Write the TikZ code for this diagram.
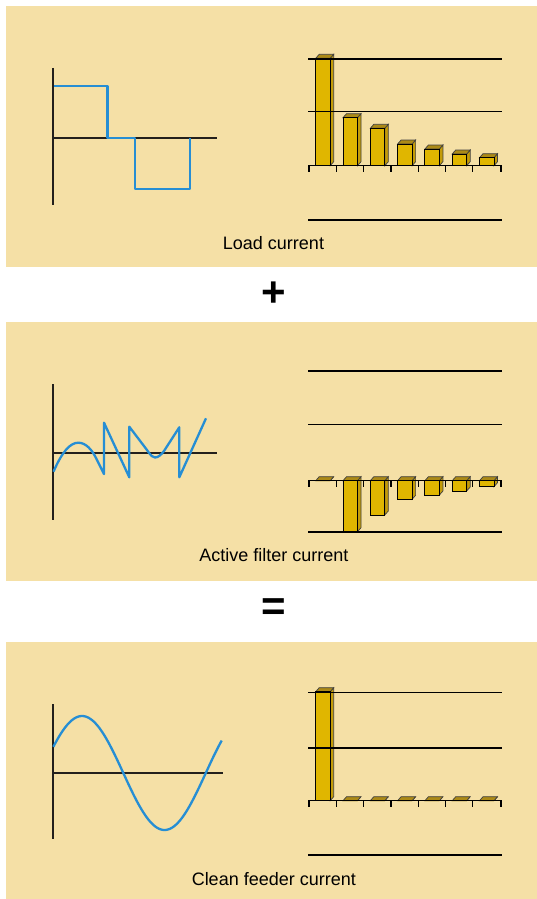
\documentclass[tikz,border=0pt]{standalone}
\usepackage{fontspec}
\setmainfont{Liberation Sans}
\definecolor{panelbg}{RGB}{245,224,166}
\definecolor{barfront}{RGB}{224,182,0}
\definecolor{bartop}{RGB}{172,138,22}
\definecolor{barside}{RGB}{196,156,8}
\definecolor{wave}{RGB}{38,142,212}
\definecolor{axis}{RGB}{35,32,28}
\tikzset{
  panel/.style={fill=panelbg,draw=none},
  axisline/.style={draw=axis,line width=1.8pt},
  chartline/.style={draw=black,line width=1.5pt},
  tickline/.style={draw=black,line width=1.2pt},
  waveline/.style={draw=wave,line width=2.3pt,line join=round},
  label/.style={font=\fontsize{18}{20}\selectfont,inner sep=0pt,anchor=base},
  opsign/.style={font=\fontsize{42}{42}\selectfont\bfseries,inner sep=0pt}
}
\newcommand\gbar[3]{%
  \filldraw[fill=barside,draw=black!75,line width=0.7pt] (#1+14.5,#2) -- (#1+18,#2-4) -- (#1+18,#3-4) -- (#1+14.5,#3) -- cycle;
  \filldraw[fill=bartop,draw=black!75,line width=0.7pt] (#1,#2) -- (#1+3.5,#2-4) -- (#1+18,#2-4) -- (#1+14.5,#2) -- cycle;
  \filldraw[fill=barfront,draw=black,line width=1pt] (#1,#2) rectangle (#1+14.5,#3);
}
\newcommand\chartgrid[4]{%
  \draw[chartline] (308,#1) -- (502,#1);
  \draw[chartline] (308,#2) -- (502,#2);
  \draw[chartline] (308,#3) -- (502,#3);
  \draw[chartline] (308,#4) -- (502,#4);
  \foreach \t in {309,336.3,363.6,390.9,418.2,445.5,472.8,501}
    \draw[tickline] (\t,#3) -- (\t,#3+6);
}
\begin{document}
\begin{tikzpicture}[x=1pt,y=-1pt]
\useasboundingbox (0,0) rectangle (537,899);
\fill[white] (0,0) rectangle (537,899);
% panels
\fill[panel] (6,6) rectangle (537,267);
\fill[panel] (6,322) rectangle (537,581);
\fill[panel] (6,642) rectangle (537,899);

% ---------- panel 1: load current ----------
\draw[axisline] (53.3,68) -- (53.3,205);
\draw[axisline] (53.3,138) -- (217,138);
\draw[waveline] (54,86) -- (107.5,86) -- (107.5,138) -- (135,138) -- (135,189) -- (190,189) -- (190,138);
\gbar{315.7}{58.3}{165.7}
\gbar{343}{117.7}{165.7}
\gbar{370.3}{128.3}{165.7}
\gbar{397.6}{144}{165.7}
\gbar{424.9}{149}{165.7}
\gbar{452.2}{154}{165.7}
\gbar{479.5}{157.7}{165.7}
\chartgrid{59}{111.7}{165.7}{220}
\node[label] (l1) at (273.5,249.5) {Load current};
\node[opsign] (plus) at (273.5,294) {+};

% ---------- panel 2: active filter current ----------
\draw[axisline] (53.3,384) -- (53.3,520);
\draw[axisline] (53.3,453.3) -- (216.7,453.3);
\draw[waveline] (53.5,471.7) .. controls (62,452) and (70,442.7) .. (78.3,442.7)
  .. controls (86,442.7) and (92,450) .. (96,458) -- (104,474) -- (104,422.7)
  -- (129.3,477.3) -- (129.3,426.7) -- (147,450)
  .. controls (151,456) and (153,457.5) .. (155,457.5)
  .. controls (158,457.5) and (161,455) .. (164,451) -- (179.3,427.3)
  -- (179.3,477.3) -- (206,418.3);
\gbar{315.7}{480.7}{480.7}
\gbar{343}{480.7}{531.7}
\gbar{370.3}{480.7}{515}
\gbar{397.6}{480.7}{499.3}
\gbar{424.9}{480.7}{495}
\gbar{452.2}{480.7}{491}
\gbar{479.5}{480.7}{486.7}
\chartgrid{371}{424.5}{480.7}{532}
\node[label] (l2) at (273.8,561.5) {Active filter current};
\node[opsign] (equals) at (273.8,610) {=};

% ---------- panel 3: clean feeder current ----------
\draw[axisline] (53.3,704) -- (53.3,839.3);
\draw[axisline] (53.3,773.3) -- (222.7,773.3);
\draw[waveline] plot[domain=53.3:221.7,samples=90,smooth] (\x,{773-57*sin(2.181818*(\x-40.8))});
\gbar{315.7}{691.7}{800.7}
\gbar{343}{800.7}{800.7}
\gbar{370.3}{800.7}{800.7}
\gbar{397.6}{800.7}{800.7}
\gbar{424.9}{800.7}{800.7}
\gbar{452.2}{800.7}{800.7}
\gbar{479.5}{800.7}{800.7}
\chartgrid{692.7}{748}{800.7}{855}
\node[label] (l3) at (273.8,885.5) {Clean feeder current};
\end{tikzpicture}
\end{document}
